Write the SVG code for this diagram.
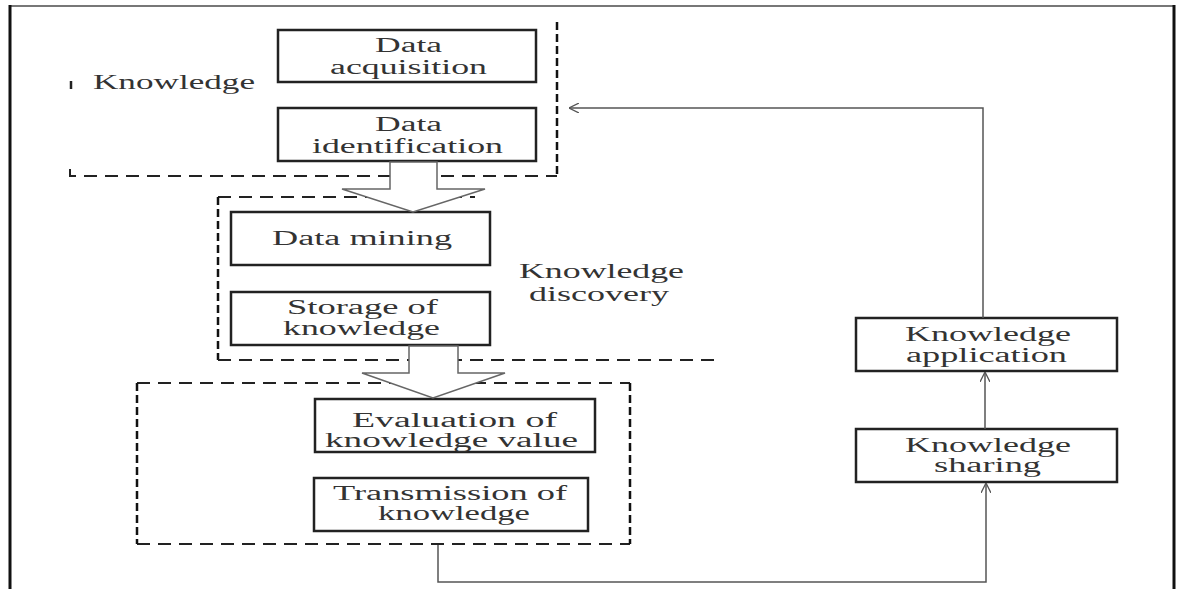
<svg xmlns="http://www.w3.org/2000/svg" width="1182" height="589" viewBox="0 0 1182 589">
<style>
  .box { fill: #fff; stroke: #222; stroke-width: 2.5; }
  .lbl { font-family: "Liberation Serif", "Times New Roman", serif; font-size: 20.5px; fill: #333; }
  .dh { fill: none; stroke: #222; stroke-width: 2; stroke-dasharray: 13 8; }
  .dv { fill: none; stroke: #111; stroke-width: 2.5; stroke-dasharray: 8 4; }
  .solid { fill: none; stroke: #222; stroke-width: 2.5; }
  .wide { fill: #fff; stroke: #666; stroke-width: 1.5; stroke-linejoin: miter; }
  .conn { fill: none; stroke: #555; stroke-width: 1.5; }
</style>
<defs>
  <marker id="open" viewBox="0 0 10 10" refX="10" refY="5" markerWidth="10" markerHeight="10" markerUnits="userSpaceOnUse" orient="auto">
    <path d="M0,0 L10,5 L0,10" fill="none" stroke="#555" stroke-width="1.3"/>
  </marker>
</defs>

<!-- outer frame -->
<g id="frame">
  <line x1="10" y1="6" x2="1174" y2="6" stroke="#777" stroke-width="2"/>
  <line x1="10" y1="5" x2="10" y2="589" stroke="#111" stroke-width="3"/>
  <line x1="1174" y1="5" x2="1174" y2="589" stroke="#111" stroke-width="3"/>
</g>

<!-- dashed group: Knowledge acquisition -->
<g id="group-knowledge">
  <line x1="71" y1="81" x2="71" y2="89" class="solid" stroke-width="2.5"/>
  <path d="M70,169 L70,176 L557,176" class="dh"/>
  <line x1="557" y1="22" x2="557" y2="176" class="dv"/>
  <text class="lbl" x="93" y="89" textLength="162" lengthAdjust="spacingAndGlyphs">Knowledge</text>
</g>

<!-- dashed group: Knowledge discovery -->
<g id="group-discovery">
  <line x1="218" y1="197" x2="475" y2="197" class="dh"/>
  <line x1="218" y1="197" x2="218" y2="360" class="dv"/>
  <line x1="218" y1="360" x2="715" y2="360" class="dh"/>
  <text class="lbl" x="519" y="278" textLength="165" lengthAdjust="spacingAndGlyphs">Knowledge</text>
  <text class="lbl" x="529" y="301" textLength="140" lengthAdjust="spacingAndGlyphs">discovery</text>
</g>

<!-- dashed group: evaluation/transmission -->
<g id="group-evaluation">
  <line x1="137" y1="383" x2="630" y2="383" class="dh"/>
  <line x1="137" y1="544" x2="630" y2="544" class="dh"/>
  <line x1="137" y1="383" x2="137" y2="544" class="dv"/>
  <line x1="630" y1="383" x2="630" y2="544" class="dv"/>
</g>

<g id="node-data-acquisition">
  <rect class="box" x="278" y="30" width="258" height="52"/>
  <text class="lbl" x="375" y="52" textLength="67" lengthAdjust="spacingAndGlyphs">Data</text>
  <text class="lbl" x="330" y="74" textLength="157" lengthAdjust="spacingAndGlyphs">acquisition</text>
</g>

<g id="node-data-identification">
  <rect class="box" x="278" y="108" width="258" height="53"/>
  <text class="lbl" x="375" y="131" textLength="67" lengthAdjust="spacingAndGlyphs">Data</text>
  <text class="lbl" x="312" y="153" textLength="191" lengthAdjust="spacingAndGlyphs">identification</text>
</g>

<g id="node-data-mining">
  <rect class="box" x="231" y="212" width="259" height="53"/>
  <text class="lbl" x="272" y="245" textLength="180" lengthAdjust="spacingAndGlyphs">Data mining</text>
</g>

<g id="node-storage">
  <rect class="box" x="231" y="292" width="259" height="53"/>
  <text class="lbl" x="287" y="314" textLength="151" lengthAdjust="spacingAndGlyphs">Storage of</text>
  <text class="lbl" x="283" y="335" textLength="157" lengthAdjust="spacingAndGlyphs">knowledge</text>
</g>

<g id="node-evaluation">
  <rect class="box" x="315" y="399" width="280" height="53"/>
  <text class="lbl" x="352" y="427" textLength="205" lengthAdjust="spacingAndGlyphs">Evaluation of</text>
  <text class="lbl" x="325" y="447" textLength="253" lengthAdjust="spacingAndGlyphs">knowledge value</text>
</g>

<g id="node-transmission">
  <rect class="box" x="314" y="478" width="274" height="53"/>
  <text class="lbl" x="333" y="500" textLength="234" lengthAdjust="spacingAndGlyphs">Transmission of</text>
  <text class="lbl" x="378" y="520" textLength="152" lengthAdjust="spacingAndGlyphs">knowledge</text>
</g>

<g id="node-application">
  <rect class="box" x="856" y="318" width="261" height="53"/>
  <text class="lbl" x="905" y="341" textLength="166" lengthAdjust="spacingAndGlyphs">Knowledge</text>
  <text class="lbl" x="906" y="362" textLength="161" lengthAdjust="spacingAndGlyphs">application</text>
</g>

<g id="node-sharing">
  <rect class="box" x="856" y="429" width="261" height="53"/>
  <text class="lbl" x="905" y="452" textLength="166" lengthAdjust="spacingAndGlyphs">Knowledge</text>
  <text class="lbl" x="934" y="472" textLength="107" lengthAdjust="spacingAndGlyphs">sharing</text>
</g>

<!-- connectors -->
<g id="connectors">
  <polygon class="wide" points="390,162 390,189 342,189 413,212 485,189 437,189 437,162"/>
  <polygon class="wide" points="409,346 409,373 362,373 433,398 505,373 458,373 458,346"/>
  <polyline class="conn" points="438,545 438,582 986,582 986,483" marker-end="url(#open)"/>
  <line class="conn" x1="985" y1="429" x2="985" y2="372" marker-end="url(#open)"/>
  <polyline class="conn" points="983,318 983,108 569,108" marker-end="url(#open)"/>
</g>
</svg>
